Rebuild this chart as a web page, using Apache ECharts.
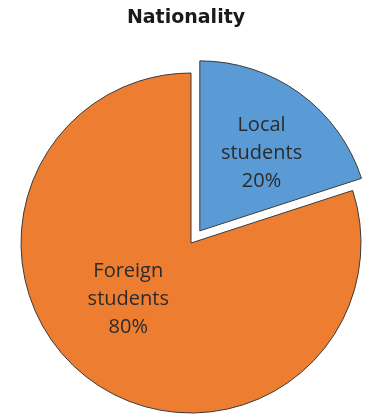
<!DOCTYPE html>
<html>
<head>
<meta charset="utf-8">
<script src="https://cdn.jsdelivr.net/npm/echarts@6/dist/echarts.min.js"></script>
<style>
  html, body { margin: 0; padding: 0; background: #fff; }
  #chart { width: 372px; height: 419px; }
</style>
</head>
<body>
<div id="chart"></div>
<script>
// Student nationality split
const categories = ['Local\nstudents', 'Foreign\nstudents'];
const shares = [20, 80];
const colors = ['#5B9BD5', '#ED7D31'];
const labelNudges = [[10, -6], [-11, -15]];

const chart = echarts.init(document.getElementById('chart'));
chart.setOption({
  animation: false,
  title: {
    text: 'Nationality',
    left: 'center',
    top: 4,
    textStyle: { fontFamily: 'DejaVu Sans', fontWeight: 'bold', fontSize: 19, color: '#1a1a1a' }
  },
  series: [{
    type: 'pie',
    center: [191, 243],
    radius: 170,
    startAngle: 90,
    clockwise: true,
    selectedMode: 'multiple',
    selectedOffset: 15,
    emphasis: { disabled: true },
    itemStyle: { borderColor: '#3a3a3a', borderWidth: 1 },
    labelLine: { show: false },
    label: {
      show: true,
      position: 'inner',
      fontFamily: 'Open Sans',
      fontSize: 20,
      lineHeight: 28,
      color: '#2b2b2b',
      formatter: p => p.name + '\n' + p.value + '%'
    },
    data: categories.map((name, i) => ({
      name,
      value: shares[i],
      selected: i === 0,
      itemStyle: { color: colors[i] },
      label: { offset: labelNudges[i] },
      select: { label: { offset: labelNudges[i] } }
    }))
  }]
});
</script>
</body>
</html>
